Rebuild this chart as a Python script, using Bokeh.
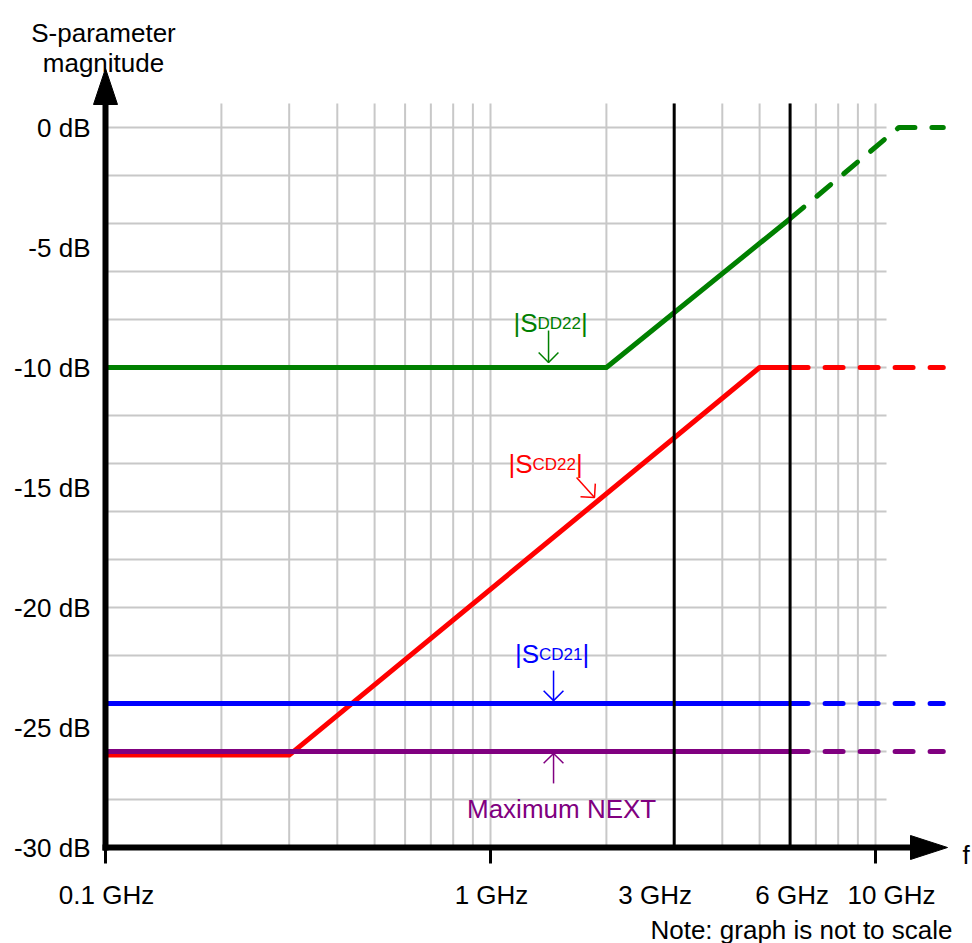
import math
from bokeh.plotting import figure
from bokeh.models import Range1d
from bokeh.core.properties import value
from bokeh.embed import file_html
from bokeh.resources import INLINE

# ---------------- data (frequency in GHz, magnitude in dB) ----------------
SDD22_SOLID_F = [0.1, 2.0, 6.0]
SDD22_SOLID_DB = [-10.0, -10.0, -3.8]
SDD22_DASH_F = [6.0, 11.5, 15.0]
SDD22_DASH_DB = [-3.8, 0.0, 0.0]

SCD22_SOLID_F = [0.1, 0.3, 5.0, 6.0]
SCD22_SOLID_DB = [-26.15, -26.15, -10.0, -10.0]
SCD22_DASH_F = [6.0, 15.0]
SCD22_DASH_DB = [-10.0, -10.0]

SCD21_SOLID_F = [0.1, 6.0]
SCD21_SOLID_DB = [-24.0, -24.0]
SCD21_DASH_F = [6.0, 15.0]
SCD21_DASH_DB = [-24.0, -24.0]

NEXT_SOLID_F = [0.1, 6.0]
NEXT_SOLID_DB = [-26.0, -26.0]
NEXT_DASH_F = [6.0, 15.0]
NEXT_DASH_DB = [-26.0, -26.0]

MARKER_F = [3.0, 6.0]                      # black vertical lines
X_TICK_F = [0.1, 1.0, 3.0, 6.0, 10.0]
X_TICK_LABELS = ["0.1 GHz", "1 GHz", "3 GHz", "6 GHz", "10 GHz"]
X_TICK_MARK_F = [0.1, 1.0, 10.0]
Y_TICK_DB = [0, -5, -10, -15, -20, -25, -30]
Y_TICK_LABELS = ["0 dB", "-5 dB", "-10 dB", "-15 dB", "-20 dB", "-25 dB", "-30 dB"]
GRID_F = [0.2, 0.3, 0.4, 0.5, 0.6, 0.7, 0.8, 0.9, 1, 2, 3, 4, 5, 6, 7, 8, 9, 10]
GRID_DB = [0, -2, -4, -6, -8, -10, -12, -14, -16, -18, -20, -22, -24, -26, -28]

SUB_LABELS = ["DD22", "CD22", "CD21"]
SUB_LABEL_F = [1.432, 1.39, 1.445]
SUB_LABEL_DB = [-8.125, -14.0, -21.92]
NEXT_LABEL = "Maximum NEXT"
NEXT_LABEL_F = 1.53
NEXT_LABEL_DB = -28.375
ARROW_F0 = [1.415, 1.673, 1.458, 1.458]
ARROW_DB0 = [-8.46, -14.58, -22.63, -27.33]
ARROW_F1 = [1.415, 1.8625, 1.458, 1.458]
ARROW_DB1 = [-9.79, -15.42, -23.88, -26.08]

# ---------------- styles / layout ----------------
GREEN, RED, BLUE, PURPLE = "#008000", "#ff0000", "#0000ff", "#800080"
LABEL_COLORS = [GREEN, RED, BLUE, PURPLE]
GRID_COLOR = "#c8c8c8"
FONT = "Liberation Sans"
FS = 26
SUB_FS = 17
W, H = 972, 943
PXD = 385.0     # px per decade
PXDB = 24.0     # px per dB
X0 = 105.0      # canvas px of 0.1 GHz
Y0 = 127.0      # canvas px of 0 dB
DASH = "18 17"


def to_px(f, db):
    return PXD * math.log10(f / 0.1), -PXDB * db


def from_px(px, py):
    return 0.1 * 10 ** (px / PXD), -py / PXDB


p = figure(width=W, height=H, x_axis_type="log",
           x_axis_location=None, y_axis_location=None,
           x_range=Range1d(0.1 * 10 ** (-X0 / PXD), 0.1 * 10 ** ((W - X0) / PXD)),
           y_range=Range1d(-(H - Y0) / PXDB, Y0 / PXDB),
           toolbar_location=None, output_backend="svg", min_border=0)
p.outline_line_color = None
p.background_fill_color = "white"
p.border_fill_color = "white"
p.grid.grid_line_color = None
p.grid.visible = False

# grid
grid_top = 1.0
grid_right = from_px(781, 0)[0]
p.segment(x0=GRID_F, y0=[-30] * len(GRID_F), x1=GRID_F, y1=[grid_top] * len(GRID_F),
          line_color=GRID_COLOR, line_width=2)
p.segment(x0=[0.1] * len(GRID_DB), y0=GRID_DB, x1=[grid_right] * len(GRID_DB), y1=GRID_DB,
          line_color=GRID_COLOR, line_width=2)

# curves
for sf, sd, df, dd, c in [
    (SCD22_SOLID_F, SCD22_SOLID_DB, SCD22_DASH_F, SCD22_DASH_DB, RED),
    (SDD22_SOLID_F, SDD22_SOLID_DB, SDD22_DASH_F, SDD22_DASH_DB, GREEN),
    (SCD21_SOLID_F, SCD21_SOLID_DB, SCD21_DASH_F, SCD21_DASH_DB, BLUE),
    (NEXT_SOLID_F, NEXT_SOLID_DB, NEXT_DASH_F, NEXT_DASH_DB, PURPLE),
]:
    p.line(sf, sd, line_color=c, line_width=5, line_join="round")
    p.line(df, dd, line_color=c, line_width=5, line_dash=DASH, line_cap="round",
           line_join="round")

# black marker lines
p.segment(x0=MARKER_F, y0=[-30] * len(MARKER_F), x1=MARKER_F, y1=[grid_top] * len(MARKER_F),
          line_color="black", line_width=3)

# axes
xa0 = from_px(-3, 0)[0]
xa1 = from_px(805, 0)[0]
p.line([xa0, xa1], [-30, -30], line_color="black", line_width=6)
ya0 = from_px(0, 723)[1]
ya1 = from_px(0, -23)[1]
p.line([0.1, 0.1], [ya0, ya1], line_color="black", line_width=6)
# arrow heads
hx = [from_px(805, 708)[0], from_px(842, 720)[0], from_px(805, 732)[0]]
hy = [from_px(805, 708)[1], from_px(842, 720)[1], from_px(805, 732)[1]]
p.patch(hx, hy, color="black")
vx = [from_px(-12, -23)[0], from_px(0, -59)[0], from_px(12, -23)[0]]
vy = [from_px(-12, -23)[1], from_px(0, -59)[1], from_px(12, -23)[1]]
p.patch(vx, vy, color="black")
# tick marks
p.segment(x0=X_TICK_MARK_F, y0=[-30] * 3, x1=X_TICK_MARK_F, y1=[-30 - 16 / PXDB] * 3,
          line_color="black", line_width=3)

# tick labels
p.text(x=[0.1] * len(Y_TICK_DB), y=Y_TICK_DB, text=Y_TICK_LABELS, x_offset=-15,
       text_font=value(FONT), text_font_size=f"{FS}px", text_align="right",
       text_baseline="middle", text_color="black")
X_LABEL_SHIFT = [1, 1, -19, 2, 16]
for f, t, s in zip(X_TICK_F, X_TICK_LABELS, X_LABEL_SHIFT):
    p.text(x=[f], y=[-30], text=[t], x_offset=s, y_offset=47,
           text_font=value(FONT), text_font_size=f"{FS}px", text_align="center",
           text_baseline="alphabetic", text_color="black")

# axis titles
p.text(x=[0.1, 0.1], y=[0, 0], text=["S-parameter", "magnitude"], x_offset=-2,
       y_offset=[-95, -65], text_font=value(FONT), text_font_size=f"{FS}px",
       text_align="center", text_baseline="alphabetic", text_color="black")
fxp, fyp = from_px(857, 727)
p.text(x=[fxp], y=[fyp], text=["f"], text_font=value(FONT), text_font_size=f"{FS}px",
       text_align="left", text_baseline="alphabetic", text_color="black")
nxp, nyp = from_px(847, 802)
p.text(x=[nxp], y=[nyp], text=["Note: graph is not to scale"], text_font=value(FONT),
       text_font_size=f"{FS}px", text_align="right", text_baseline="alphabetic",
       text_color="black")

# curve labels with subscripts
ADV = {"|": 0.26, "S": 0.667, "D": 0.722, "C": 0.722, "2": 0.556, "1": 0.556}


def draw_label(f, db, sub, color):
    pieces = [("|S", FS, 0), (sub, SUB_FS, 1), ("|", FS, 0)]
    widths = [sum(ADV[ch] for ch in t) * s for t, s, _ in pieces]
    off = -sum(widths) / 2
    for (t, s, dy), w in zip(pieces, widths):
        p.text(x=[f], y=[db], text=[t], x_offset=off, y_offset=dy,
               text_font=value(FONT), text_font_size=f"{s}px", text_color=color,
               text_align="left", text_baseline="alphabetic")
        off += w


for sub, f, db, c in zip(SUB_LABELS, SUB_LABEL_F, SUB_LABEL_DB, LABEL_COLORS):
    draw_label(f, db, sub, c)
p.text(x=[NEXT_LABEL_F], y=[NEXT_LABEL_DB], text=[NEXT_LABEL], text_font=value(FONT),
       text_font_size=f"{FS}px", text_color=PURPLE, text_align="center",
       text_baseline="alphabetic")


# annotation arrows
def arrow(f0, d0, f1, d1, color, wing=14.0):
    x0, y0 = to_px(f0, d0)
    x1, y1 = to_px(f1, d1)
    L = math.hypot(x0 - x1, y0 - y1)
    ux, uy = (x0 - x1) / L, (y0 - y1) / L
    pts = []
    for a in (math.pi / 4, -math.pi / 4):
        wx = ux * math.cos(a) - uy * math.sin(a)
        wy = ux * math.sin(a) + uy * math.cos(a)
        pts.append(from_px(x1 + wing * wx, y1 + wing * wy))
    p.line([f0, f1], [d0, d1], line_color=color, line_width=1.5)
    p.line([pts[0][0], f1, pts[1][0]], [pts[0][1], d1, pts[1][1]], line_color=color,
           line_width=1.5)


for f0, d0, f1, d1, c in zip(ARROW_F0, ARROW_DB0, ARROW_F1, ARROW_DB1, LABEL_COLORS):
    arrow(f0, d0, f1, d1, c)

open("out.html", "w").write(file_html(p, INLINE))
